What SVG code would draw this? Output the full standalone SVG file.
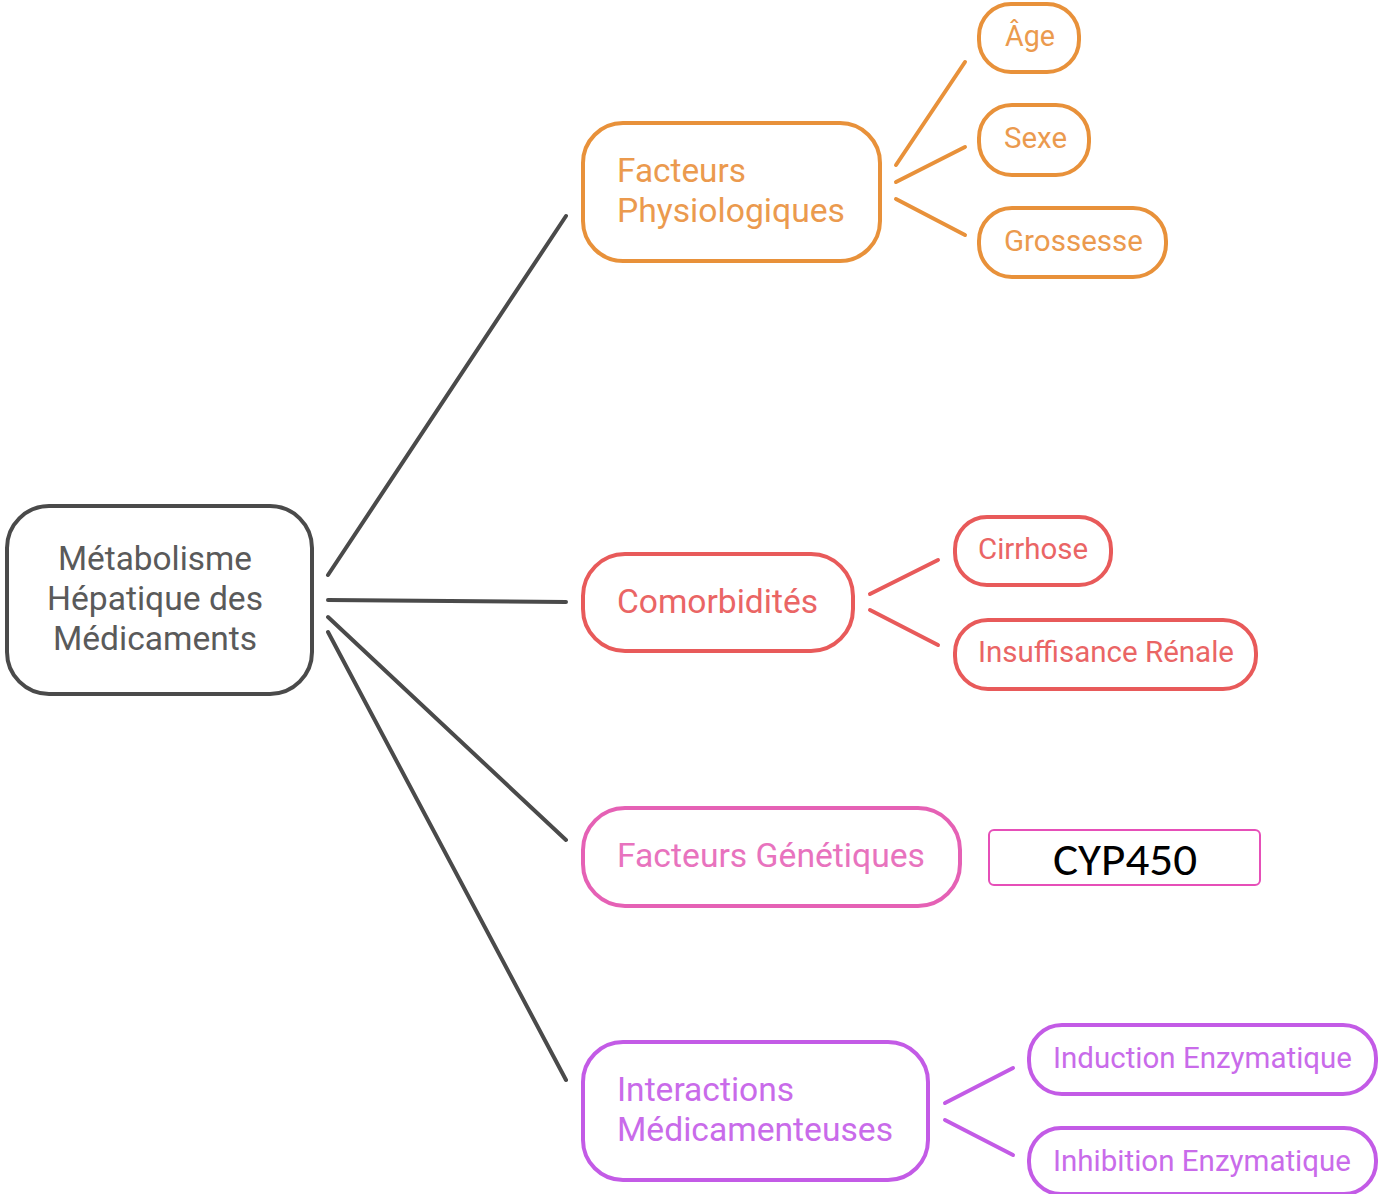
<svg xmlns="http://www.w3.org/2000/svg" width="1378" height="1194" viewBox="0 0 1378 1194">
<style>
.n{fill:#fff;stroke-width:4}
.t{font-family:Roboto,"Liberation Sans",sans-serif}
.big{font-size:33px}
.sm{font-size:29px}
.root rect{stroke:#4a4a4a}.root text{fill:#5a5a5a}
.or rect{stroke:#E8913A}.or text{fill:#EB9A4E}
.rd rect{stroke:#E85A5A}.rd text{fill:#EA6565}
.pk rect{stroke:#E561B5}.pk text{fill:#E873BE}
.pu rect{stroke:#C35BE6}.pu text{fill:#C96BEA}
.c line{stroke-width:4;stroke-linecap:round}
</style>
<g id="connectors" class="c">
<g stroke="#4a4a4a">
<line x1="328" y1="575" x2="566" y2="216"/>
<line x1="328" y1="600" x2="566" y2="602"/>
<line x1="328" y1="617" x2="566" y2="840"/>
<line x1="328" y1="632" x2="566" y2="1080"/>
</g>
<g stroke="#E8913A">
<line x1="896" y1="165" x2="965" y2="62"/>
<line x1="896" y1="182" x2="965" y2="147"/>
<line x1="896" y1="199" x2="965" y2="235"/>
</g>
<g stroke="#E85A5A">
<line x1="870" y1="594" x2="938" y2="560"/>
<line x1="870" y1="610" x2="938" y2="645"/>
</g>
<g stroke="#C35BE6">
<line x1="945" y1="1103" x2="1013" y2="1068"/>
<line x1="945" y1="1120" x2="1013" y2="1155"/>
</g>
</g>
<g id="root" class="root">
<rect class="n" x="7" y="506" width="305" height="188" rx="42"/>
<text class="t big" x="58" y="570" textLength="194" lengthAdjust="spacingAndGlyphs">Métabolisme</text>
<text class="t big" x="47" y="610" textLength="216" lengthAdjust="spacingAndGlyphs">Hépatique des</text>
<text class="t big" x="53" y="650" textLength="204" lengthAdjust="spacingAndGlyphs">Médicaments</text>
</g>
<g id="physio" class="or">
<rect class="n" x="583" y="123" width="297" height="138" rx="40"/>
<text class="t big" x="617" y="182" textLength="129" lengthAdjust="spacingAndGlyphs">Facteurs</text>
<text class="t big" x="617" y="222" textLength="228" lengthAdjust="spacingAndGlyphs">Physiologiques</text>
</g>
<g id="age" class="or">
<rect class="n" x="979" y="4" width="100" height="68" rx="32"/>
<text class="t sm" x="1005" y="46" textLength="50" lengthAdjust="spacingAndGlyphs">Âge</text>
</g>
<g id="sexe" class="or">
<rect class="n" x="979" y="105" width="110" height="70" rx="33"/>
<text class="t sm" x="1004" y="148" textLength="63" lengthAdjust="spacingAndGlyphs">Sexe</text>
</g>
<g id="grossesse" class="or">
<rect class="n" x="979" y="208" width="187" height="69" rx="33"/>
<text class="t sm" x="1004" y="251" textLength="139" lengthAdjust="spacingAndGlyphs">Grossesse</text>
</g>
<g id="comorb" class="rd">
<rect class="n" x="583" y="554" width="270" height="97" rx="42"/>
<text class="t big" x="617" y="613" textLength="201" lengthAdjust="spacingAndGlyphs">Comorbidités</text>
</g>
<g id="cirrhose" class="rd">
<rect class="n" x="955" y="517" width="156" height="68" rx="32"/>
<text class="t sm" x="978" y="559" textLength="110" lengthAdjust="spacingAndGlyphs">Cirrhose</text>
</g>
<g id="insuff" class="rd">
<rect class="n" x="955" y="620" width="301" height="69" rx="33"/>
<text class="t sm" x="978" y="662" textLength="256" lengthAdjust="spacingAndGlyphs">Insuffisance Rénale</text>
</g>
<g id="genet" class="pk">
<rect class="n" x="583" y="808" width="377" height="98" rx="42"/>
<text class="t big" x="617" y="867" textLength="308" lengthAdjust="spacingAndGlyphs">Facteurs Génétiques</text>
</g>
<g id="cyp">
<rect x="989" y="830" width="271" height="55" rx="5" fill="#fff" stroke="#E64FB8" stroke-width="2"/>
<text font-family="Carlito,'Open Sans','Liberation Sans',sans-serif" font-size="46" x="1053" y="875" fill="#000" textLength="144" lengthAdjust="spacingAndGlyphs">CYP450</text>
</g>
<g id="interact" class="pu">
<rect class="n" x="583" y="1042" width="345" height="138" rx="40"/>
<text class="t big" x="617" y="1101" textLength="177" lengthAdjust="spacingAndGlyphs">Interactions</text>
<text class="t big" x="617" y="1141" textLength="276" lengthAdjust="spacingAndGlyphs">Médicamenteuses</text>
</g>
<g id="induction" class="pu">
<rect class="n" x="1029" y="1025" width="347" height="69" rx="33"/>
<text class="t sm" x="1053" y="1068" textLength="299" lengthAdjust="spacingAndGlyphs">Induction Enzymatique</text>
</g>
<g id="inhibition" class="pu">
<rect class="n" x="1029" y="1128" width="347" height="66" rx="32"/>
<text class="t sm" x="1053" y="1171" textLength="298" lengthAdjust="spacingAndGlyphs">Inhibition Enzymatique</text>
</g>
</svg>
